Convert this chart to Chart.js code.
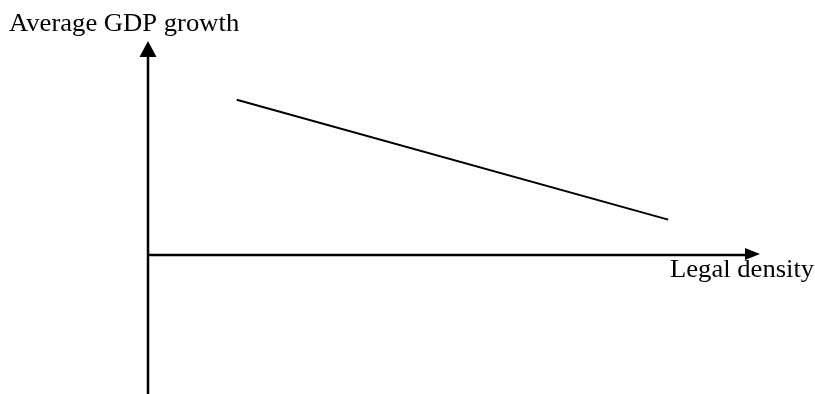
<!DOCTYPE html>
<html>
<head>
<meta charset="utf-8">
<script src="https://cdn.jsdelivr.net/npm/chart.js@4"></script>
<style>
  body { margin: 0; background: #fff; }
  canvas { display: block; }
</style>
</head>
<body>
<canvas id="chart" width="815" height="394"></canvas>
<script>
// legal density (x) vs average GDP growth (y), schematic
const legalDensity = [1.45, 8.5];
const gdpGrowth = [1.45, 0.33];
const yTitle = 'Average GDP growth';
const xTitle = 'Legal density';

const FONT = '25px "Liberation Serif", "Times New Roman", serif';
const STRETCH = 1.065; // the source text is a little wider than the font

function label(ctx, text, x, y) {
  ctx.save();
  ctx.translate(x, y);
  ctx.scale(STRETCH, 1);
  ctx.fillText(text, 0, 0);
  ctx.restore();
}

// draws the two arrowed axes and their labels
const arrowAxes = {
  id: 'arrowAxes',
  afterDraw(chart) {
    const { ctx, chartArea, scales: { x, y } } = chart;
    const x0 = x.getPixelForValue(0);
    const xEnd = x.getPixelForValue(x.max);
    const y0 = y.getPixelForValue(0);
    const yTop = y.getPixelForValue(y.max);

    ctx.save();
    ctx.strokeStyle = '#000';
    ctx.fillStyle = '#000';
    ctx.lineWidth = 2.5;

    // vertical axis
    ctx.beginPath();
    ctx.moveTo(x0, chartArea.bottom);
    ctx.lineTo(x0, yTop + 14);
    ctx.stroke();
    ctx.beginPath();
    ctx.moveTo(x0, yTop);
    ctx.lineTo(x0 - 8.5, yTop + 16);
    ctx.lineTo(x0 + 8.5, yTop + 16);
    ctx.closePath();
    ctx.fill();

    // horizontal axis
    ctx.beginPath();
    ctx.moveTo(x0, y0);
    ctx.lineTo(xEnd - 13, y0);
    ctx.stroke();
    ctx.beginPath();
    ctx.moveTo(xEnd, y0 - 1);
    ctx.lineTo(xEnd - 15, y0 - 7);
    ctx.lineTo(xEnd - 15, y0 + 5);
    ctx.closePath();
    ctx.fill();

    ctx.font = FONT;
    ctx.textBaseline = 'alphabetic';
    ctx.textAlign = 'left';
    label(ctx, yTitle, 9, 31);
    label(ctx, xTitle, 670, 277);
    ctx.restore();
  }
};

new Chart(document.getElementById('chart'), {
  type: 'line',
  data: {
    datasets: [{
      data: legalDensity.map((v, i) => ({ x: v, y: gdpGrowth[i] })),
      borderColor: '#000',
      borderWidth: 2,
      pointRadius: 0,
      tension: 0,
      fill: false
    }]
  },
  options: {
    responsive: false,
    animation: false,
    layout: { padding: { left: 148, right: 55, top: 41, bottom: 0 } },
    plugins: { legend: { display: false }, tooltip: { enabled: false } },
    scales: {
      x: { type: 'linear', min: 0, max: 10, display: false },
      y: { type: 'linear', min: -1.3, max: 2, display: false }
    }
  },
  plugins: [arrowAxes]
});
</script>
</body>
</html>
